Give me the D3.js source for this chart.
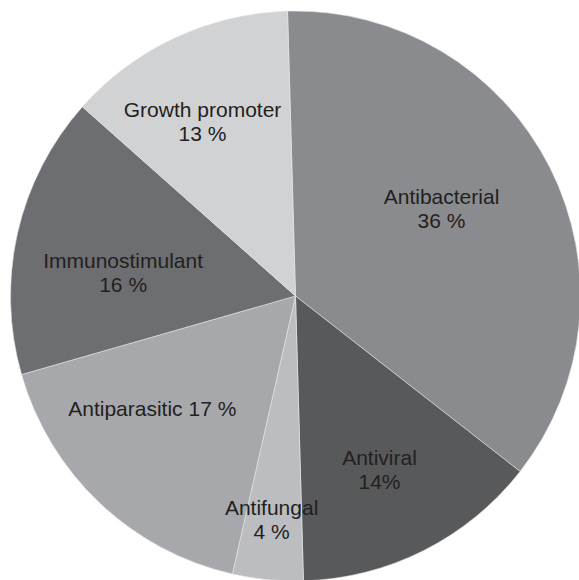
<!DOCTYPE html>
<html>
<head>
<meta charset="utf-8">
<script src="https://cdn.jsdelivr.net/npm/d3@7"></script>
<style>
  html, body { margin: 0; padding: 0; background: #fff; }
  svg { display: block; }
</style>
</head>
<body>
<svg id="chart" width="579" height="580"></svg>
<script>
// ---- data ----
const categories = ["Antibacterial", "Antiviral", "Antifungal", "Antiparasitic", "Immunostimulant", "Growth promoter"];
const values = [36, 14, 4, 17, 16, 13];
const valueLabels = ["36 %", "14%", "4 %", "17 %", "16 %", "13 %"];
const colors = ["#8a8b8e", "#58595b", "#bcbdc0", "#a7a8ab", "#6d6e71", "#d1d2d4"];

// ---- layout (label placement, not data) ----
const labelLayout = [
  { r: 170, shift: -4,  lines: 2 },
  { r: 193, shift: 1,   lines: 2 },
  { r: 225, shift: 0.5, lines: 2 },
  { r: 182, shift: 8.5, lines: 1 },
  { r: 174, shift: -5,  lines: 2 },
  { r: 198, shift: -3,  lines: 2 }
];

const W = 579, H = 580;
const cx = 295.5, cy = 296, R = 285;
const startOffset = -1.6 * Math.PI / 180;

const svg = d3.select("#chart");
const g = svg.append("g").attr("transform", `translate(${cx},${cy})`);

const pie = d3.pie().sort(null).value(d => d.value)
  .startAngle(startOffset).endAngle(startOffset + 2 * Math.PI);
const data = categories.map((c, i) => ({ name: c, value: values[i], label: valueLabels[i], color: colors[i], i }));
const arcs = pie(data);
const arc = d3.arc().innerRadius(0).outerRadius(R);

g.selectAll("path.slice").data(arcs).enter().append("path")
  .attr("class", "slice")
  .attr("d", arc)
  .attr("fill", d => d.data.color)
  .attr("stroke", "#e6e6e6")
  .attr("stroke-width", 0.6);

const fontFamily = "'Liberation Sans', Arial, Helvetica, sans-serif";
const fs = 21;

arcs.forEach(d => {
  const lay = labelLayout[d.data.i];
  const a = (d.startAngle + d.endAngle) / 2 + lay.shift * Math.PI / 180;
  const x = Math.sin(a) * lay.r;
  const y = -Math.cos(a) * lay.r;
  const t = g.append("text")
    .attr("text-anchor", "middle")
    .attr("font-family", fontFamily)
    .attr("font-size", fs)
    .attr("fill", "#231f20");
  if (lay.lines === 2) {
    t.append("tspan").attr("x", x).attr("y", y - 12 + 7.5).text(d.data.name);
    t.append("tspan").attr("x", x).attr("y", y + 12 + 7.5).text(d.data.label);
  } else {
    t.append("tspan").attr("x", x).attr("y", y + 7.5).text(d.data.name + " " + d.data.label);
  }
});
</script>
</body>
</html>
